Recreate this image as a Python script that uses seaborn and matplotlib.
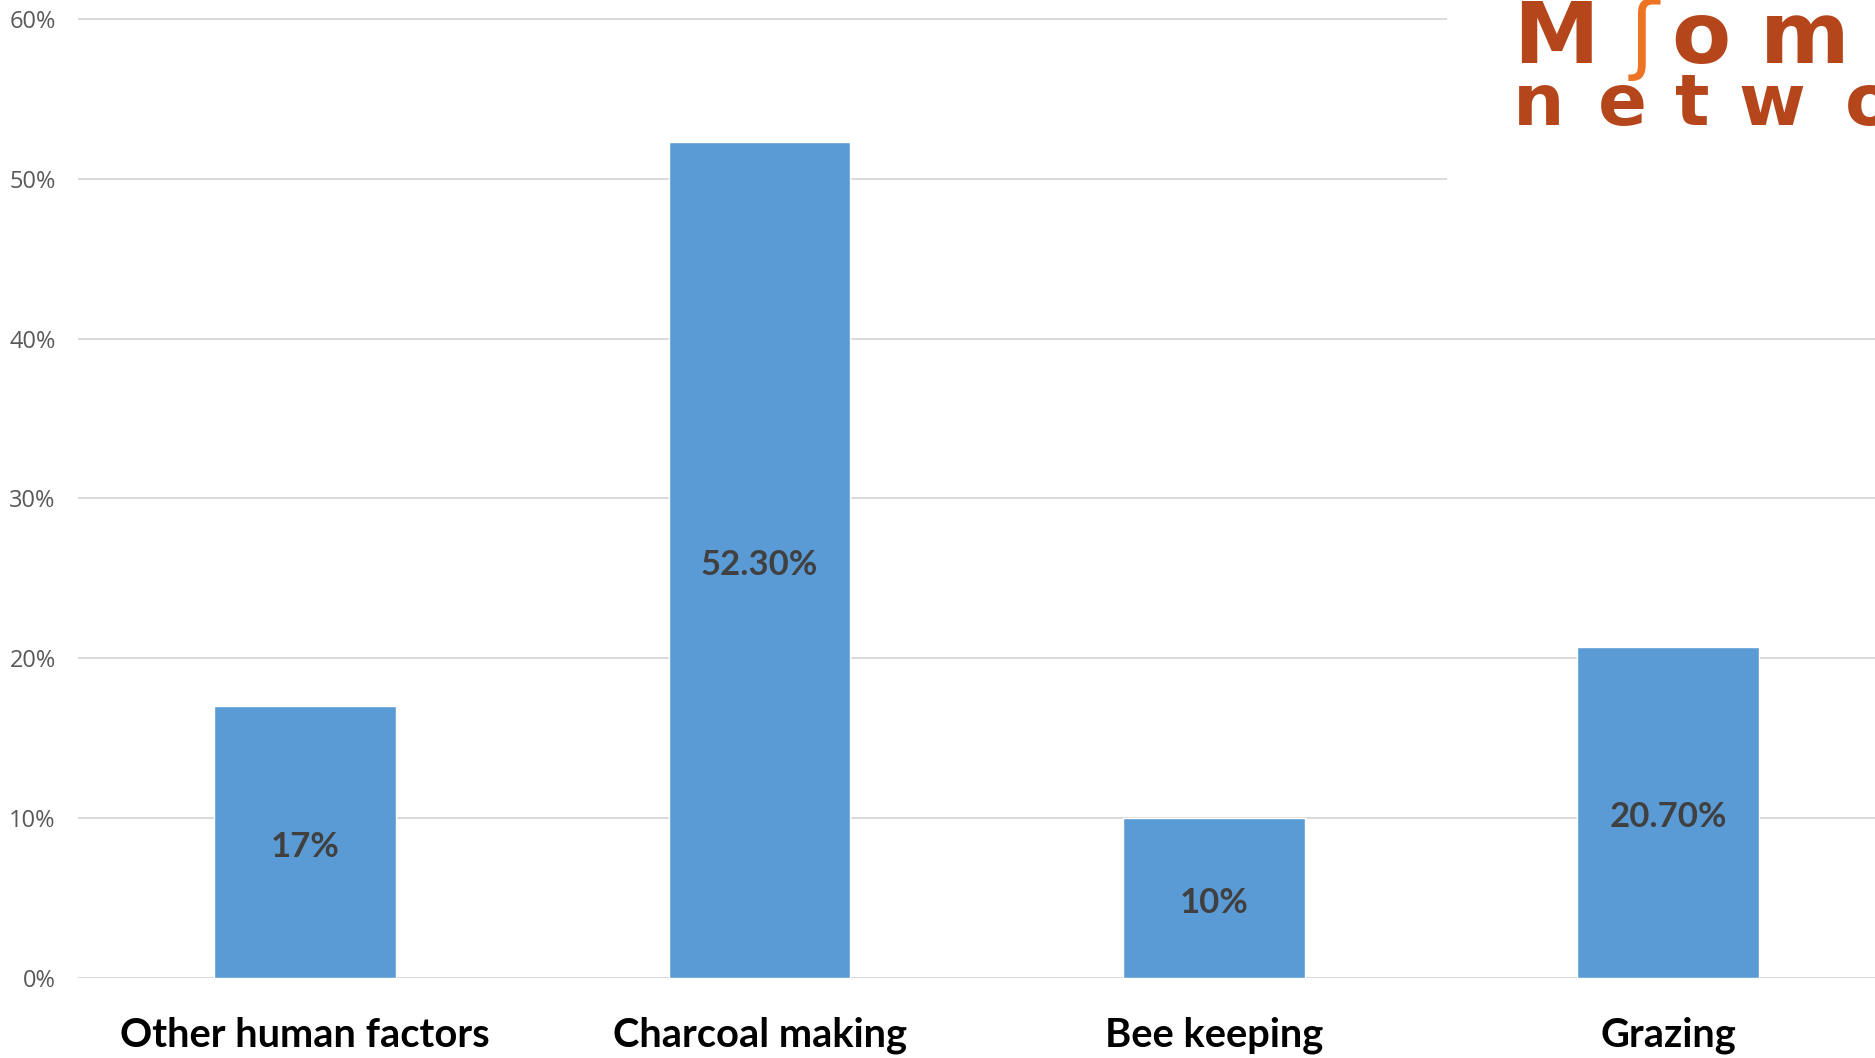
import matplotlib
matplotlib.use('Agg')
import matplotlib.pyplot as plt
import seaborn as sns
from matplotlib.ticker import PercentFormatter
from matplotlib.patches import Rectangle

# Data
categories = ['Other human factors', 'Charcoal making', 'Bee keeping', 'Grazing']
shares = [0.17, 0.523, 0.10, 0.207]
share_labels = ['17%', '52.30%', '10%', '20.70%']

BAR_COLOR = '#5B9BD5'
GRID_COLOR = '#D9D9D9'
LOGO_RUST = '#B5461C'
LOGO_ORANGE = '#EE7425'

sns.set_theme(style='white')
plt.rcParams['font.family'] = ['Open Sans', 'DejaVu Sans']

W, H = 1875, 1058
fig = plt.figure(figsize=(W / 100, H / 100), dpi=100)
ax = fig.add_axes([78 / W, 80 / H, 1 - 78 / W, 960 / H])

sns.barplot(x=categories, y=shares, color=BAR_COLOR, saturation=1,
            width=0.4, ax=ax, zorder=2)

ax.set_xlim(-0.5, 3.455)
ax.set_ylim(0, 0.6005)
ax.set_yticks([0, 0.1, 0.2, 0.3, 0.4, 0.5, 0.6])
ax.yaxis.set_major_formatter(PercentFormatter(1.0, decimals=0))
ax.yaxis.grid(True, color=GRID_COLOR, linewidth=1.4, zorder=0)
ax.set_axisbelow(True)
sns.despine(ax=ax, left=True, bottom=True, top=True, right=True)

ax.tick_params(axis='y', length=0, pad=16, labelsize=17, labelcolor='#595959')
ax.tick_params(axis='x', length=0, pad=28, labelsize=28.7)
for lbl in ax.get_xticklabels():
    lbl.set_fontfamily(['Lato', 'DejaVu Sans'])
    lbl.set_fontweight('bold')
    lbl.set_color('black')

anns = ax.bar_label(ax.containers[0], labels=share_labels, label_type='center',
                    fontsize=25, fontweight='bold', color='#404040',
                    fontfamily=['Lato', 'DejaVu Sans'])
for a in anns:
    a.xyann = (0, -3.5)

# Logo patch in the top right corner
fig.patches.append(Rectangle((1447 / W, 1 - 190 / H), (W - 1447) / W, 190 / H,
                             transform=fig.transFigure, facecolor='white',
                             edgecolor='none', zorder=3))

def fx(px):
    return px / W

def fy(py):
    return 1 - py / H

big = dict(fontsize=62, fontweight='bold', color=LOGO_RUST, va='baseline',
           ha='left', fontfamily='DejaVu Sans', zorder=4)
fig.text(fx(1513), fy(63), 'M', **big)
fig.text(fx(1630), fy(63), 'ʃ', **{**big, 'color': LOGO_ORANGE, 'fontweight': 'normal'})
fig.text(fx(1671), fy(63), 'o', **big)
fig.text(fx(1760), fy(63), 'm', **big)

small = dict(fontsize=52, fontweight='bold', color=LOGO_RUST, va='baseline',
             ha='left', fontfamily='DejaVu Sans', zorder=4)
for letter, x in zip('netwo', [1513, 1598, 1675, 1738, 1845]):
    fig.text(fx(x), fy(125), letter, **small)

fig.savefig('out.png', dpi=100)
